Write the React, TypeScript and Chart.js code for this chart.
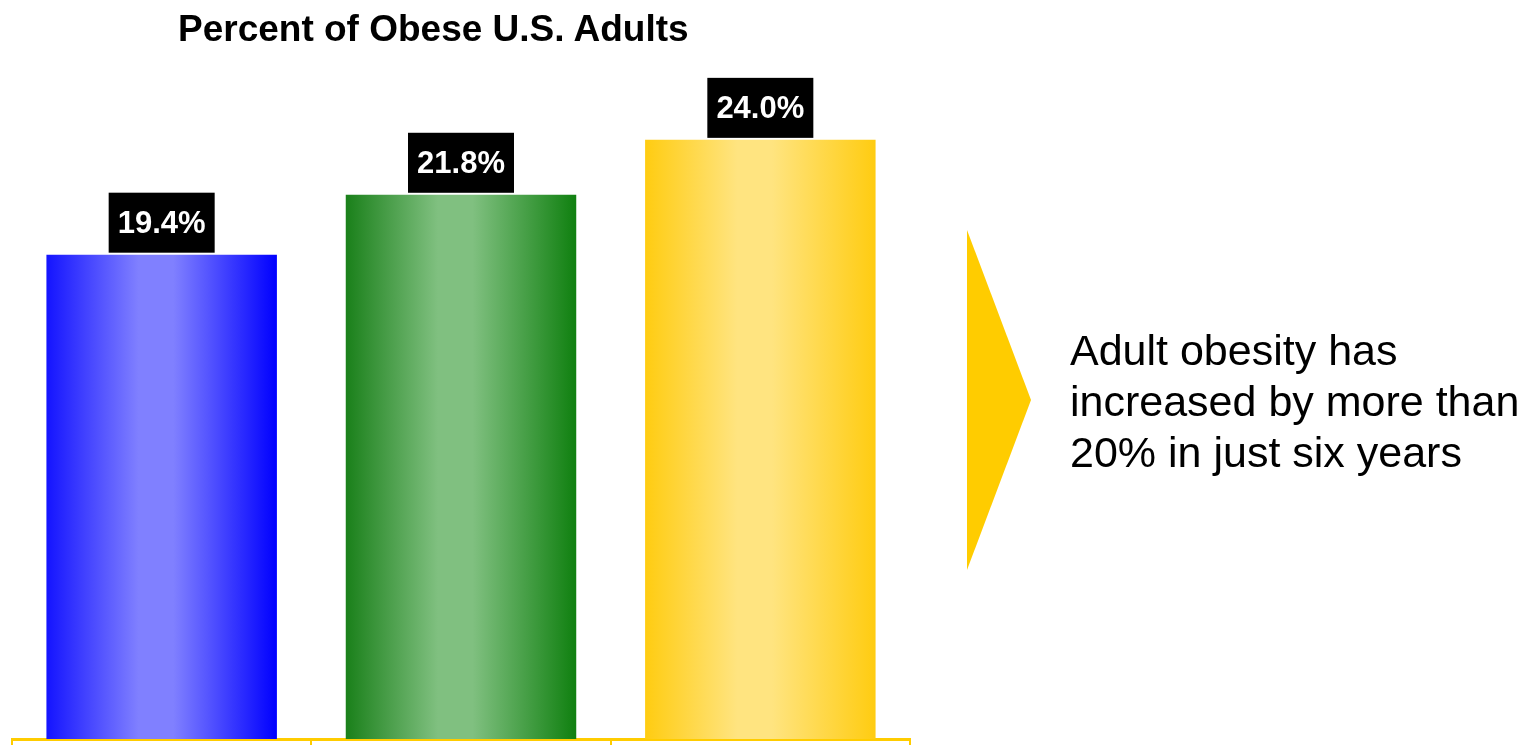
import React, { useEffect, useRef } from "react";
import { Chart, registerables } from "chart.js";

Chart.register(...registerables);

const TITLE = "Percent of Obese U.S. Adults";
const CATEGORIES = ["A", "B", "C"];
const VALUES = [19.4, 21.8, 24.0];
const VALUE_LABELS = ["19.4%", "21.8%", "24.0%"];
const GRADIENT_EDGE_LEFT = ["#1414ff", "#1a801a", "#ffcc11"];
const GRADIENT_CENTER = ["#8080ff", "#80c080", "#ffe480"];
const GRADIENT_EDGE_RIGHT = ["#0000ff", "#108010", "#ffcc11"];
const NOTE_LINES = ["Adult obesity has", "increased by more than", "20% in just six years"];
const Y_MAX = 28;

const FONT = "'Liberation Sans', Arial, sans-serif";
const BAR_PCT = 0.77;

const labelPlugin = {
  id: "valueBoxes",
  afterDatasetsDraw(chart: any) {
    const ctx = chart.ctx;
    const meta = chart.getDatasetMeta(0);
    ctx.save();
    meta.data.forEach((el: any, i: number) => {
      const w = 106;
      const h = 60;
      const x = el.x - w / 2;
      const y = el.y - 2 - h;
      ctx.fillStyle = "#000000";
      ctx.fillRect(x, y, w, h);
      ctx.fillStyle = "#ffffff";
      ctx.font = `bold 31px ${FONT}`;
      ctx.textAlign = "center";
      ctx.textBaseline = "alphabetic";
      ctx.fillText(VALUE_LABELS[i], el.x, y + 40);
    });
    ctx.restore();
  },
};

const arrowPlugin = {
  id: "arrowShape",
  afterDraw(chart: any) {
    const ctx = chart.ctx;
    ctx.save();
    ctx.fillStyle = "#ffcc00";
    ctx.beginPath();
    ctx.moveTo(967, 230);
    ctx.lineTo(1031, 400);
    ctx.lineTo(967, 570);
    ctx.closePath();
    ctx.fill();
    ctx.restore();
  },
};

function makeGradient(context: any) {
  const chart = context.chart;
  const i = context.dataIndex;
  if (!chart.chartArea || i === undefined) return GRADIENT_CENTER[i ?? 0];
  const xs = chart.scales.x;
  const cx = xs.getPixelForValue(i);
  const catW = (chart.chartArea.right - chart.chartArea.left) / CATEGORIES.length;
  const half = (catW * BAR_PCT) / 2;
  const g = chart.ctx.createLinearGradient(cx - half, 0, cx + half, 0);
  g.addColorStop(0, GRADIENT_EDGE_LEFT[i]);
  g.addColorStop(0.4, GRADIENT_CENTER[i]);
  g.addColorStop(0.55, GRADIENT_CENTER[i]);
  g.addColorStop(1, GRADIENT_EDGE_RIGHT[i]);
  return g;
}

export default function App() {
  const ref = useRef<HTMLCanvasElement>(null);
  useEffect(() => {
    document.body.style.margin = "0";
    const chart = new Chart(ref.current!, {
      type: "bar",
      data: {
        labels: CATEGORIES,
        datasets: [
          {
            data: VALUES,
            backgroundColor: makeGradient as any,
            borderWidth: 0,
            barPercentage: BAR_PCT,
            categoryPercentage: 1,
          },
        ],
      },
      options: {
        animation: false,
        responsive: false,
        maintainAspectRatio: false,
        layout: { padding: { left: 12, right: 612, top: 40, bottom: 0 } },
        plugins: { legend: { display: false }, tooltip: { enabled: false }, title: { display: false } },
        scales: {
          x: {
            display: true,
            offset: true,
            ticks: { display: false },
            grid: {
              offset: true,
              drawOnChartArea: false,
              drawTicks: true,
              tickLength: 6,
              color: "#ffcc00",
              lineWidth: 2,
            },
            border: { display: true, color: "#ffcc00", width: 3 },
          },
          y: {
            display: false,
            min: 0,
            max: Y_MAX,
          },
        },
      },
      plugins: [labelPlugin, arrowPlugin],
    });
    return () => chart.destroy();
  }, []);

  return (
    <div style={{ position: "relative", width: 1522, height: 745, background: "#fff", overflow: "hidden" }}>
      <canvas ref={ref} width={1522} height={745} style={{ position: "absolute", left: 0, top: 0 }} />
      <div
        style={{
          position: "absolute",
          left: 178,
          top: 10,
          font: `bold 37px ${FONT}`,
          lineHeight: "37px",
          whiteSpace: "nowrap",
          color: "#000",
        }}
      >
        {TITLE}
      </div>
      <div
        style={{
          position: "absolute",
          left: 1070,
          top: 325,
          font: `43px ${FONT}`,
          lineHeight: "51px",
          whiteSpace: "nowrap",
          color: "#000",
        }}
      >
        {NOTE_LINES.map((l, i) => (
          <div key={i}>{l}</div>
        ))}
      </div>
    </div>
  );
}
